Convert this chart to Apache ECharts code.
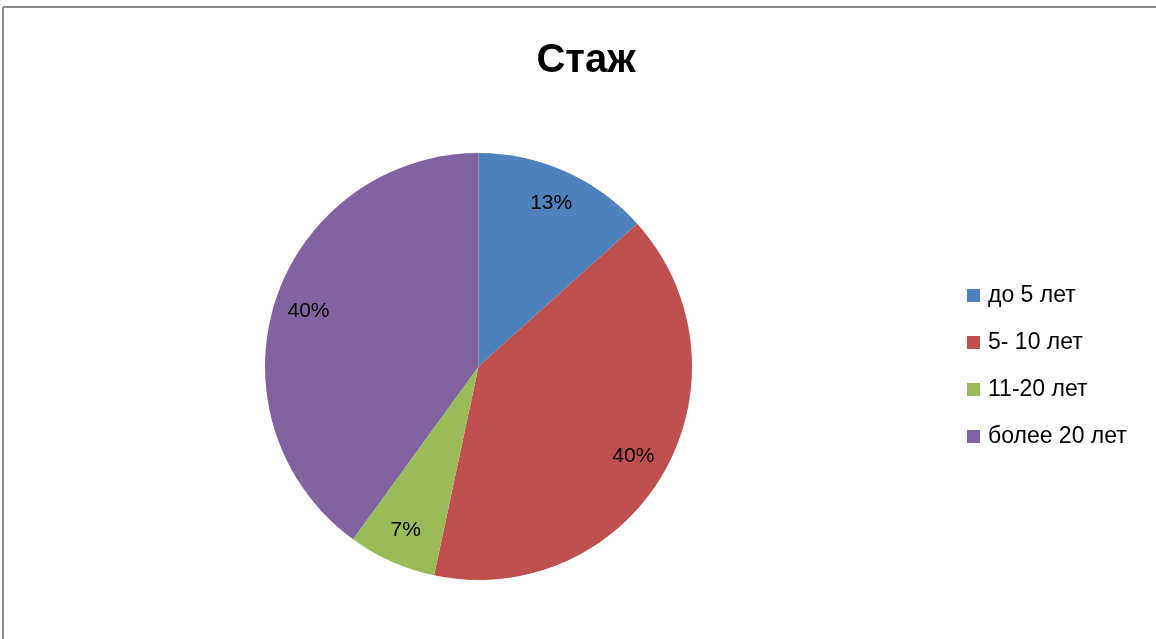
<!DOCTYPE html>
<html><head><meta charset="utf-8">
<script src="https://cdn.jsdelivr.net/npm/echarts@6/dist/echarts.min.js"></script>
<style>html,body{margin:0;padding:0;background:#fff;}#c{width:1156px;height:639px;}</style>
</head><body><div id="c"></div>
<script>
const titleText = 'Стаж';
const categories = ['до 5 лет', '5- 10 лет', '11-20 лет', 'более 20 лет'];
const values = [2, 6, 1, 6];
const colors = ['#4F81BD', '#C0504D', '#9BBB59', '#8064A2'];

const chart = echarts.init(document.getElementById('c'));
const data = categories.map((n, i) => ({ name: n, value: values[i], itemStyle: { color: colors[i] } }));
const font = 'Liberation Sans';
chart.setOption({
  animation: false,
  title: { text: titleText, left: 581, top: 36, textAlign: 'center',
    textStyle: { fontFamily: font, fontWeight: 'bold', fontSize: 40, color: '#000' } },
  graphic: [
    { type: 'line', shape: { x1: 3, y1: 7, x2: 1156, y2: 7 }, style: { stroke: '#8a8a8a', lineWidth: 2 } },
    { type: 'line', shape: { x1: 3, y1: 7, x2: 3, y2: 639 }, style: { stroke: '#8a8a8a', lineWidth: 2 } }
  ],
  legend: {
    orient: 'vertical', left: 962, top: 279, itemWidth: 13, itemHeight: 13, itemGap: 24,
    icon: 'rect', data: categories,
    textStyle: { fontFamily: font, fontSize: 23, color: '#000', padding: [0, 0, 0, 3] }
  },
  series: [
    { type: 'pie', center: [478.5, 366.5], radius: 213.5, startAngle: 90, clockwise: true,
      data: data, label: { show: false }, labelLine: { show: false }, silent: true },
    { type: 'pie', center: [478.5, 366.5], radius: [138, 213.5], startAngle: 90, clockwise: true,
      data: data.map(d => ({ name: d.name, value: d.value })), silent: true,
      itemStyle: { color: 'rgba(0,0,0,0)' }, legendHoverLink: false,
      label: { show: true, position: 'inside', formatter: p => Math.round(p.percent) + '%',
        fontFamily: font, fontSize: 21, color: '#000' },
      labelLine: { show: false } }
  ]
});
</script></body></html>
